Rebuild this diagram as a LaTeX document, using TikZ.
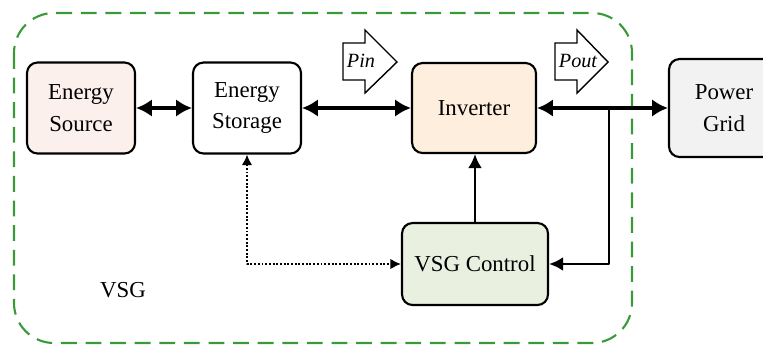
\documentclass[tikz,border=0pt]{standalone}
\usepackage{fontspec}
\setmainfont{Liberation Serif}
\usetikzlibrary{arrows.meta}

\definecolor{srcfill}{RGB}{252,240,237}
\definecolor{invfill}{RGB}{253,238,222}
\definecolor{gridfill}{RGB}{242,242,242}
\definecolor{ctlfill}{RGB}{233,240,224}
\definecolor{vsggreen}{RGB}{58,154,58}

\tikzset{
  blk/.style={draw,line width=1.2pt,rounded corners=6pt,align=center,inner sep=0pt,
    font=\fontsize{13}{18}\selectfont},
  pw/.style={line width=2.2pt,{Latex[length=9pt,width=10pt]}-{Latex[length=9pt,width=10pt]}},
  sig/.style={line width=1.6pt,-{Latex[length=8pt,width=8pt]}},
  flow/.style={draw,line width=0.8pt,line join=miter,fill=white},
}

\begin{document}
\begin{tikzpicture}[x=0.02cm,y=-0.02cm,line join=round]
  \useasboundingbox (0,0) rectangle (763,345);
  % VSG boundary
  \draw[vsggreen,dash pattern=on 9pt off 5pt,line width=1.2pt,rounded corners=0.8cm] (14,13) rectangle (632,343);
  \node[font=\fontsize{13}{18}\selectfont] (vsg) at (123,290) {VSG};

  \node[blk,fill=srcfill,minimum width=2.16cm,minimum height=1.82cm] (src) at (81,108) {Energy\\Source};
  \node[blk,fill=white,minimum width=2.16cm,minimum height=1.82cm] (sto) at (247,108) {Energy\\Storage};
  \node[blk,fill=invfill,minimum width=2.48cm,minimum height=1.80cm] (inv) at (474,108) {Inverter};
  \node[blk,fill=gridfill,minimum width=2.2cm,minimum height=1.96cm] (grid) at (724,108) {Power\\Grid};
  \node[blk,fill=ctlfill,minimum width=2.92cm,minimum height=1.64cm] (ctl) at (475,264) {VSG Control};

  % power flow
  \draw[pw] (src) -- (sto);
  \draw[pw] (sto) -- (inv);
  \draw[pw] (inv) -- (grid);
  \coordinate (br) at (609,108);
  \draw[sig] (br) |- (ctl.east);
  \draw[sig] (ctl.north) -- (ctl.north |- inv.south);
  \draw[densely dotted,line width=1.1pt,{Latex[length=6pt,width=6pt]}-{Latex[length=6pt,width=6pt]}] (sto.south) |- (ctl.west);

  % block arrows
  \draw[flow] (343,43) -- (365,43) -- (365,30) -- (397,62) -- (365,93) -- (365,80) -- (343,80) -- cycle;
  \node[font=\fontsize{11.5}{13}\selectfont\itshape] (pin) at (361,61) {Pin};
  \draw[flow] (555,43) -- (577,43) -- (577,30) -- (608,62) -- (577,93) -- (577,80) -- (555,80) -- cycle;
  \node[font=\fontsize{11.5}{13}\selectfont\itshape] (pout) at (578,61) {Pout};
\end{tikzpicture}
\end{document}
